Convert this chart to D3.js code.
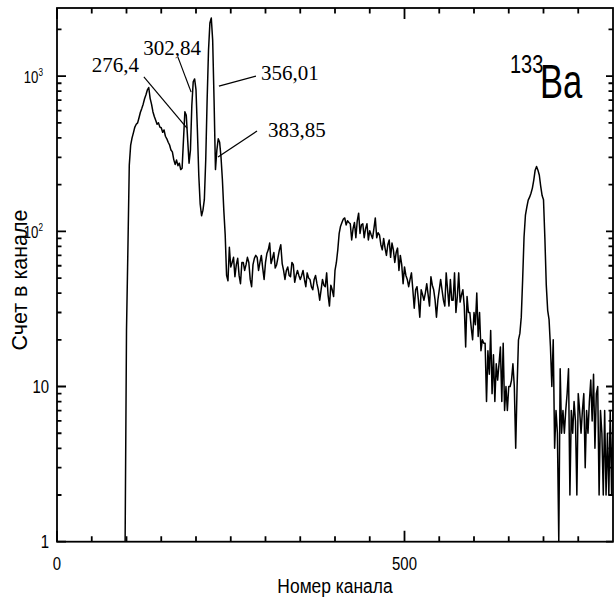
<!DOCTYPE html>
<html>
<head>
<meta charset="utf-8">
<script src="https://cdn.jsdelivr.net/npm/d3@7/dist/d3.min.js"></script>
<style>
  body { margin: 0; background: #fff; }
  svg { display: block; }
</style>
</head>
<body>
<svg id="chart" width="615" height="600"></svg>
<script>
// Gamma spectrum of 133Ba: counts per channel, every second channel from 98 to 800
const firstChannel = 98;
const channelStep = 2;
const counts = [
  1, 23, 76, 267, 360, 400, 433, 470, 490, 500, 540, 585, 620, 660, 715, 760, 815, 845,
  720, 660, 590, 550, 520, 490, 500, 470, 465, 435, 450, 410, 395, 375, 360, 334, 325, 290, 270, 288, 265, 275, 250, 255,
  390, 590, 560, 390, 275, 334, 650, 920, 960, 815, 450, 230, 150, 126, 137, 160, 288, 700, 1470, 2200, 2370, 1700,
  700, 250, 334, 395, 375, 300, 214, 137, 95, 52, 48, 79,
  59, 63, 68, 51, 61, 67, 52, 46, 63, 63, 56, 61, 68, 63, 49, 44, 61, 67, 70, 68, 56, 63, 70, 58, 49,
  63, 72, 76, 84, 62, 67, 73, 58, 61, 68, 76, 82, 62, 56, 49, 56, 59, 52, 51, 63, 61, 47, 52, 56, 52,
  49, 52, 56, 49, 44, 54, 50, 49, 44, 42, 49, 52, 46, 42, 36, 42, 49, 45, 44, 54, 39, 33, 45, 42, 38, 56,
  63, 76, 97, 108, 114, 120, 122, 110, 117, 114, 112, 88, 104, 114, 91, 117, 131, 97, 110, 112,
  91, 104, 112, 88, 101, 95, 90, 104, 122, 91, 98, 95, 82, 76, 90, 78, 70, 82, 88, 68,
  84, 76, 63, 73, 78, 56, 70, 61, 46, 59, 52, 49, 44, 49, 54, 42, 32, 42, 44, 36,
  28, 42, 39, 36, 40, 46, 39, 33, 51, 45, 42, 36, 28, 36, 42, 49, 42, 36, 33, 54,
  42, 33, 49, 36, 36, 54, 30, 38, 54, 35, 39, 42, 33, 18, 38, 30, 30, 24, 20, 30,
  25, 40, 21, 30, 17, 20, 19, 19, 8, 17, 12, 23, 9, 16, 8, 14, 11, 14, 18, 8,
  19, 7, 10, 7, 10, 10, 11, 14, 10, 4, 10, 20, 22, 28, 49, 92, 127, 143, 159, 166,
  176, 190, 214, 248, 262, 248, 230, 195, 170, 160,
  90, 45, 31, 27, 18, 10, 20, 4, 7, 5, 1, 13, 5, 7, 5, 7, 9, 13, 2, 7,
  5, 8, 6, 2, 9, 7, 5, 7, 9, 3, 7, 5, 8, 11, 6, 12, 4, 9, 10, 2,
  7, 5, 2, 7, 2, 5, 2, 7, 2, 7
];

// Axis settings
const xDomain = [0, 800];
const yDomain = [1, 2750];
const xMajorTicks = [0, 500];
const xMinorStep = 50;
const yMajorTicks = [1, 10, 100, 1000];
const yTickLabels = [
  { base: "1", exp: "" },
  { base: "10", exp: "" },
  { base: "10", exp: "2" },
  { base: "10", exp: "3" }
];
const xTitle = "Номер канала";
const yTitle = "Счет в канале";

// Peak energies (keV) with label anchor and leader line ends, in channel / count units
const peakNames = ["276,4", "302,84", "356,01", "383,85"];
const peakLabelAt = [[50, 1060], [124, 1368], [293.5, 944], [303.6, 405]];
const peakLeaderFrom = [[125, 990], [174, 1327], [286.3, 1000], [287.8, 443]];
const peakLeaderTo = [[187, 463], [193, 789], [233, 862], [231.7, 301]];

const isotopeMass = "133";
const isotopeSymbol = "Ba";

// ---------------------------------------------------------------
(function draw() {
  const svg = d3.select("#chart");
  const plotLeft = 57, plotRight = 613, plotTop = 8, plotBottom = 541.7;
  const NARROW = 0.83;
  const sansFont = "'Liberation Sans', Arial, Helvetica, sans-serif";
  const serifFont = "'Liberation Serif', 'Times New Roman', serif";

  const x = d3.scaleLinear().domain(xDomain).range([plotLeft, plotRight]);
  const y = d3.scaleLog().domain(yDomain).range([plotBottom, plotTop]).clamp(true);

  const spectrum = counts.map((c, i) => ({ ch: firstChannel + i * channelStep, n: c }));

  svg.append("clipPath").attr("id", "plotClip")
    .append("rect").attr("x", plotLeft).attr("y", plotTop)
    .attr("width", plotRight - plotLeft).attr("height", plotBottom - plotTop);

  // Spectrum trace
  svg.append("path")
    .datum(spectrum)
    .attr("clip-path", "url(#plotClip)")
    .attr("fill", "none")
    .attr("stroke", "#000")
    .attr("stroke-width", 1.5)
    .attr("stroke-linejoin", "round")
    .attr("d", d3.line().x(d => x(d.ch)).y(d => y(Math.max(d.n, 1))));

  // Tick positions
  const xMinor = d3.range(xDomain[0] + xMinorStep, xDomain[1], xMinorStep).filter(v => !xMajorTicks.includes(v));
  const yMinor = [];
  yMajorTicks.forEach(dec => {
    for (let k = 2; k <= 9; k++) {
      const v = dec * k;
      if (v < yDomain[1]) yMinor.push(v);
    }
  });

  // Inward tick marks on all four sides, collected into one path
  const tickPath = d3.path();
  function addXTicks(values, len) {
    values.forEach(v => {
      const px = x(v);
      tickPath.moveTo(px, plotBottom); tickPath.lineTo(px, plotBottom - len);
      tickPath.moveTo(px, plotTop); tickPath.lineTo(px, plotTop + len);
    });
  }
  function addYTicks(values, lenL, lenR) {
    values.forEach(v => {
      const py = y(v);
      tickPath.moveTo(plotLeft, py); tickPath.lineTo(plotLeft + lenL, py);
      tickPath.moveTo(plotRight, py); tickPath.lineTo(plotRight - lenR, py);
    });
  }
  addXTicks(xMinor, 5.5);
  addXTicks(xMajorTicks, 11);
  addYTicks(yMinor, 4.5, 4.5);
  addYTicks(yMajorTicks, 9, 7);
  svg.append("path")
    .attr("d", tickPath.toString())
    .attr("fill", "none")
    .attr("stroke", "#000")
    .attr("stroke-width", 1.8);

  // Frame
  svg.append("rect")
    .attr("x", plotLeft).attr("y", plotTop)
    .attr("width", plotRight - plotLeft).attr("height", plotBottom - plotTop)
    .attr("fill", "none").attr("stroke", "#000").attr("stroke-width", 1.8);

  // Condensed sans text helper
  function narrowText(px, py, str, size, anchor, squeeze) {
    return svg.append("text")
      .attr("transform", `translate(${px},${py}) scale(${squeeze || NARROW},1)`)
      .attr("font-family", sansFont)
      .attr("font-size", size)
      .attr("text-anchor", anchor)
      .attr("fill", "#000")
      .text(str);
  }

  // X tick labels
  xMajorTicks.forEach(v => narrowText(x(v), plotBottom + 28.5, String(v), 18, "middle"));

  // Y tick labels
  yMajorTicks.forEach((v, i) => {
    const lab = yTickLabels[i];
    if (!lab.exp) {
      narrowText(plotLeft - 8, y(v) + 6.5, lab.base, 18, "end");
    } else {
      const t = svg.append("text")
        .attr("transform", `translate(${plotLeft - 14},${y(v) + 6.5}) scale(0.78,1)`)
        .attr("font-family", sansFont)
        .attr("text-anchor", "end")
        .attr("fill", "#000");
      t.append("tspan").attr("font-size", 17).text(lab.base);
      t.append("tspan").attr("font-size", 10.5).attr("dy", -7).text(lab.exp);
    }
  });

  // Axis titles
  narrowText((plotLeft + plotRight) / 2, 593, xTitle, 21, "middle");
  svg.append("text")
    .attr("transform", `translate(26.5,280) rotate(-90)`)
    .attr("font-family", sansFont)
    .attr("font-size", 21.5)
    .attr("text-anchor", "middle")
    .attr("fill", "#000")
    .text(yTitle);

  // Peak labels with leader lines
  peakNames.forEach((name, i) => {
    svg.append("line")
      .attr("x1", x(peakLeaderFrom[i][0])).attr("y1", y(peakLeaderFrom[i][1]))
      .attr("x2", x(peakLeaderTo[i][0])).attr("y2", y(peakLeaderTo[i][1]))
      .attr("stroke", "#000").attr("stroke-width", 1.2);
    svg.append("text")
      .attr("x", x(peakLabelAt[i][0])).attr("y", y(peakLabelAt[i][1]))
      .attr("font-family", serifFont)
      .attr("font-size", 21)
      .attr("fill", "#000")
      .text(name);
  });

  // Isotope label: mass number as a raised prefix, then the element symbol
  narrowText(510, 73, isotopeMass, 25, "start", 0.8);
  narrowText(540, 98, isotopeSymbol, 48, "start", 0.72);
})();
</script>
</body>
</html>
